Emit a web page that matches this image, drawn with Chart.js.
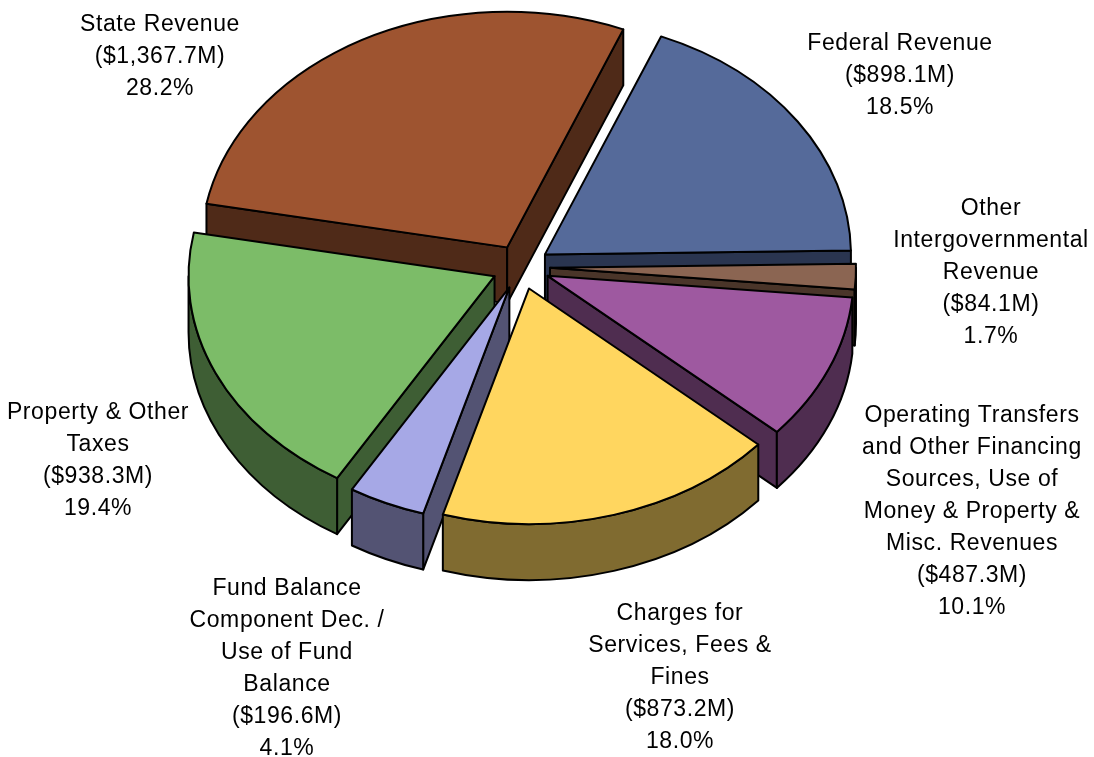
<!DOCTYPE html>
<html>
<head>
<meta charset="utf-8">
<title>Revenue sources</title>
<script src="https://cdn.jsdelivr.net/npm/chart.js@4/dist/chart.umd.min.js"></script>
<style>
    html, body { margin: 0; padding: 0; background: #fff; }
    canvas { display: block; }
</style>
</head>
<body>
<canvas id="revenuePie" width="1094" height="757"></canvas>
<script>
const categories = [
    ["Federal Revenue"],
    ["Other", "Intergovernmental", "Revenue"],
    ["Operating Transfers", "and Other Financing", "Sources, Use of", "Money & Property &", "Misc. Revenues"],
    ["Charges for", "Services, Fees &", "Fines"],
    ["Fund Balance", "Component Dec. /", "Use of Fund", "Balance"],
    ["Property & Other", "Taxes"],
    ["State Revenue"]
];
const amounts = [898.1, 84.1, 487.3, 873.2, 196.6, 938.3, 1367.7];
const percents = ["18.5%", "1.7%", "10.1%", "18.0%", "4.1%", "19.4%", "28.2%"];

const topColors = ["#556a9a", "#8b6552", "#9e59a0", "#ffd65f", "#a6a8e6", "#7cbc68", "#9e5430"];
const wallColors = ["#2a3550", "#4a3529", "#4f2d50", "#806b30", "#535373", "#3e5e34", "#4f2a18"];

// label centre x and first line y, same order as categories
const labelSpots = [[900, 44], [991, 209], [972, 416], [680, 614], [287, 589], [98, 413], [160, 25]];

// back to front
const paintOrder = [6, 0, 1, 2, 5, 4, 3];

const squash = 0.77;
const depth = 56;
const explode = 29;
const lineStep = 32;

function sliceParts(arc) {
    const p = arc.getProps(["x", "y", "startAngle", "endAngle", "outerRadius"], true);
    const mid = (p.startAngle + p.endAngle) / 2;
    return {
        x: p.x + Math.cos(mid) * explode,
        y: p.y + Math.sin(mid) * explode * squash,
        rx: p.outerRadius,
        ry: p.outerRadius * squash,
        start: p.startAngle,
        end: p.endAngle
    };
}

function drawFace(ctx, s, angle) {
    const ex = s.x + Math.cos(angle) * s.rx;
    const ey = s.y + Math.sin(angle) * s.ry;
    ctx.beginPath();
    ctx.moveTo(s.x, s.y);
    ctx.lineTo(ex, ey);
    ctx.lineTo(ex, ey + depth);
    ctx.lineTo(s.x, s.y + depth);
    ctx.closePath();
    ctx.fill();
    ctx.stroke();
}

function drawSlice(ctx, s, topColor, wallColor) {
    ctx.lineWidth = 2;
    ctx.lineJoin = "round";
    ctx.strokeStyle = "#000";
    ctx.fillStyle = wallColor;

    if (Math.cos(s.start) < 0) drawFace(ctx, s, s.start);
    if (Math.cos(s.end) > 0) drawFace(ctx, s, s.end);

    // outer wall only shows on the front half of the ellipse
    const a0 = Math.max(s.start, 0);
    const a1 = Math.min(s.end, Math.PI);
    if (a1 > a0) {
        ctx.beginPath();
        ctx.ellipse(s.x, s.y, s.rx, s.ry, 0, a0, a1);
        ctx.ellipse(s.x, s.y + depth, s.rx, s.ry, 0, a1, a0, true);
        ctx.closePath();
        ctx.fill();
        ctx.stroke();
    }

    ctx.fillStyle = topColor;
    ctx.beginPath();
    ctx.moveTo(s.x, s.y);
    ctx.ellipse(s.x, s.y, s.rx, s.ry, 0, s.start, s.end);
    ctx.closePath();
    ctx.fill();
    ctx.stroke();
}

const tiltedPie = {
    id: "tiltedPie",
    beforeDatasetsDraw(chart) {
        const ctx = chart.ctx;
        const arcs = chart.getDatasetMeta(0).data;
        ctx.save();
        paintOrder.forEach(i => {
            drawSlice(ctx, sliceParts(arcs[i]), topColors[i], wallColors[i]);
        });
        ctx.restore();
        return false;
    },
    afterDraw(chart) {
        const ctx = chart.ctx;
        ctx.save();
        ctx.font = "23px 'Liberation Sans'";
        ctx.letterSpacing = "0.6px";
        ctx.fillStyle = "#000";
        ctx.textAlign = "center";
        ctx.textBaseline = "middle";
        categories.forEach((name, i) => {
            const money = "($" + amounts[i].toLocaleString("en-US", { minimumFractionDigits: 1 }) + "M)";
            const lines = name.concat([money, percents[i]]);
            lines.forEach((line, n) => {
                ctx.fillText(line, labelSpots[i][0], labelSpots[i][1] + n * lineStep);
            });
        });
        ctx.restore();
    }
};

new Chart(document.getElementById("revenuePie"), {
    type: "pie",
    data: {
        labels: categories.map(c => c.join(" ")),
        datasets: [{
            data: amounts,
            backgroundColor: topColors
        }]
    },
    options: {
        responsive: false,
        animation: false,
        rotation: 22.3,
        radius: 306,
        layout: { padding: { right: 52, bottom: 223 } },
        plugins: {
            legend: { display: false },
            tooltip: { enabled: false }
        }
    },
    plugins: [tiltedPie]
});
</script>
</body>
</html>
